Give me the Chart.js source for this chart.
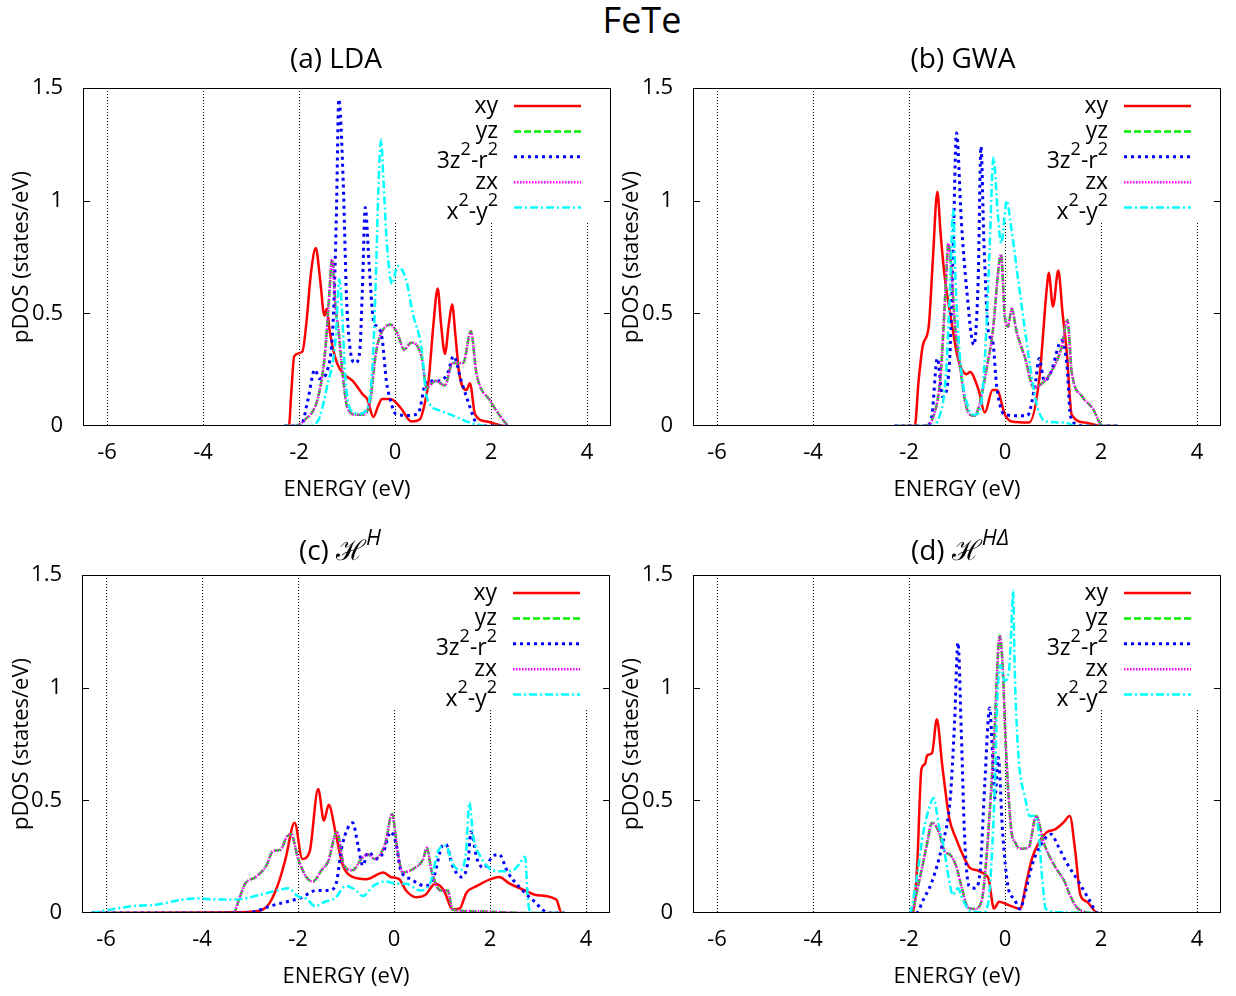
<!DOCTYPE html>
<html>
<head>
<meta charset="utf-8">
<title>FeTe pDOS</title>
<script src="https://cdn.jsdelivr.net/npm/chart.js@4.4.1/dist/chart.umd.min.js"></script>
<style>
  body { margin: 0; background: #fff; width: 1236px; height: 996px; overflow: hidden; position: relative; font-family: 'Open Sans', sans-serif; }
  #title { position: absolute; left: 24px; top: 0; width: 1236px; text-align: center; font-size: 36px; line-height: 40px; }
  canvas { position: absolute; }
</style>
</head>
<body>
<div id="title">FeTe</div>
<canvas id="lda" width="618" height="470" style="left:0;top:40px"></canvas>
<canvas id="gwa" width="618" height="470" style="left:618px;top:40px"></canvas>
<canvas id="hh" width="618" height="470" style="left:0;top:527px"></canvas>
<canvas id="hhd" width="618" height="470" style="left:618px;top:527px"></canvas>
<script>
// orbital names (^ marks a superscript) and panel titles
const orbitalLabels = ['xy', 'yz', '3z^2-r^2', 'zx', 'x^2-y^2'];
const panelTitles = ['(a) LDA', '(b) GWA', '(c) \u210B^{H}', '(d) \u210B^{H\u0394}'];
const xTicks = [-6, -4, -2, 0, 2, 4];
const xTickLabels = ['-6', '-4', '-2', '0', '2', '4'];
const yTicks = [0, 0.5, 1, 1.5];
const yTickLabels = ['0', '0.5', '1', '1.5'];

// pDOS curves, [energy (eV), states/eV]
// (a) LDA
const ldaXy = [[-2.3,0],[-2.21,0],[-2.16,0.15],[-2.10,0.31],[-1.93,0.33],[-1.85,0.45],[-1.75,0.68],[-1.65,0.79],[-1.56,0.65],[-1.47,0.49],[-1.42,0.52],[-1.36,0.42],[-1.21,0.28],[-1.06,0.23],[-0.88,0.20],[-0.67,0.14],[-0.58,0.12],[-0.45,0.04],[-0.35,0.09],[-0.27,0.12],[-0.09,0.12],[0.12,0.08],[0.34,0.02],[0.52,0.03],[0.62,0.10],[0.70,0.20],[0.80,0.45],[0.89,0.61],[0.96,0.45],[1.04,0.32],[1.12,0.45],[1.19,0.54],[1.26,0.40],[1.34,0.23],[1.49,0.16],[1.56,0.19],[1.67,0.05],[1.92,0.02],[2.28,0],[2.35,0]];
const ldaYz = [[-2.3,0],[-2.1,0],[-1.89,0.025],[-1.6,0.13],[-1.46,0.32],[-1.38,0.55],[-1.31,0.74],[-1.24,0.53],[-1.17,0.41],[-1.10,0.25],[-0.99,0.08],[-0.81,0.05],[-0.67,0.05],[-0.52,0.11],[-0.40,0.32],[-0.31,0.40],[-0.09,0.45],[0.05,0.41],[0.19,0.34],[0.34,0.37],[0.55,0.31],[0.66,0.17],[0.84,0.20],[1.04,0.18],[1.20,0.28],[1.42,0.28],[1.58,0.42],[1.70,0.23],[1.99,0.11],[2.17,0.05],[2.35,0]];
const ldaZ2 = [[-2.3,0],[-1.96,0],[-1.82,0.11],[-1.67,0.25],[-1.57,0.21],[-1.39,0.26],[-1.28,0.50],[-1.22,0.95],[-1.17,1.45],[-1.08,1.09],[-1.01,0.57],[-0.92,0.32],[-0.83,0.28],[-0.74,0.32],[-0.68,0.60],[-0.62,0.97],[-0.54,0.72],[-0.45,0.47],[-0.37,0.44],[-0.27,0.39],[-0.18,0.20],[-0.09,0.11],[0.01,0.055],[0.27,0.047],[0.48,0.055],[0.66,0.20],[0.91,0.20],[1.09,0.23],[1.22,0.31],[1.38,0.20],[1.52,0.11],[1.70,0.01],[1.81,0],[2.35,0]];
const ldaX2y2 = [[-2.3,0],[-1.82,0],[-1.6,0.025],[-1.42,0.17],[-1.24,0.38],[-1.16,0.65],[-1.10,0.50],[-1.04,0.23],[-0.92,0.07],[-0.74,0.055],[-0.60,0.07],[-0.47,0.26],[-0.40,0.65],[-0.34,1.09],[-0.29,1.27],[-0.24,1.09],[-0.17,0.81],[-0.06,0.63],[0.05,0.71],[0.23,0.65],[0.37,0.50],[0.55,0.35],[0.66,0.13],[0.91,0.07],[1.20,0.047],[1.63,0.01],[1.92,0],[2.35,0]];

// (b) GWA
const gwaXy = [[-2.3,0],[-1.88,0],[-1.80,0.2],[-1.71,0.36],[-1.59,0.44],[-1.50,0.75],[-1.41,1.04],[-1.34,0.85],[-1.26,0.67],[-1.12,0.47],[-0.98,0.30],[-0.80,0.23],[-0.73,0.24],[-0.55,0.16],[-0.42,0.06],[-0.26,0.16],[-0.17,0.16],[0,0.05],[0.14,0.02],[0.50,0.015],[0.71,0.20],[0.87,0.61],[0.91,0.68],[1.0,0.53],[1.11,0.69],[1.20,0.50],[1.29,0.32],[1.39,0.05],[1.68,0.015],[2.0,0],[2.35,0]];
const gwaYz = [[-2.3,0],[-1.70,0],[-1.48,0.05],[-1.34,0.23],[-1.23,0.64],[-1.18,0.81],[-1.12,0.70],[-1.05,0.47],[-0.94,0.27],[-0.80,0.08],[-0.65,0.045],[-0.55,0.08],[-0.37,0.27],[-0.26,0.41],[-0.08,0.76],[-0.01,0.50],[0.06,0.44],[0.14,0.52],[0.24,0.42],[0.42,0.30],[0.60,0.17],[0.75,0.185],[0.96,0.24],[1.18,0.35],[1.30,0.47],[1.39,0.24],[1.61,0.13],[1.82,0.08],[2.04,0],[2.35,0]];
const gwaZ2 = [[-2.3,0],[-1.62,0],[-1.52,0.05],[-1.41,0.30],[-1.30,0.13],[-1.16,0.27],[-1.08,0.79],[-1.01,1.30],[-0.91,0.91],[-0.80,0.61],[-0.65,0.36],[-0.56,0.64],[-0.50,1.24],[-0.44,0.82],[-0.34,0.41],[-0.26,0.38],[-0.17,0.17],[0,0.05],[0.46,0.045],[0.64,0.20],[0.71,0.30],[0.82,0.20],[0.96,0.24],[1.18,0.38],[1.29,0.27],[1.36,0.05],[1.47,0.01],[1.61,0],[2.35,0]];
const gwaX2y2 = [[-2.3,0],[-1.55,0],[-1.37,0.04],[-1.23,0.23],[-1.14,0.64],[-1.08,0.96],[-1.03,0.64],[-0.94,0.31],[-0.76,0.08],[-0.62,0.05],[-0.51,0.08],[-0.40,0.38],[-0.32,0.79],[-0.24,1.19],[-0.15,0.94],[-0.08,0.81],[0.04,1.0],[0.11,0.91],[0.28,0.64],[0.42,0.42],[0.57,0.20],[0.68,0.08],[0.85,0.02],[1.25,0.015],[1.47,0],[2.35,0]];

// (c) H^H
const hXy = [[-6.3,0],[-3.3,0.003],[-2.8,0.01],[-2.59,0.045],[-2.41,0.13],[-2.26,0.24],[-2.07,0.40],[-1.91,0.24],[-1.76,0.27],[-1.58,0.55],[-1.46,0.41],[-1.36,0.48],[-1.22,0.36],[-1.08,0.22],[-0.86,0.16],[-0.58,0.15],[-0.22,0.18],[-0.07,0.16],[0.11,0.15],[0.25,0.10],[0.47,0.07],[0.65,0.08],[0.86,0.13],[1.04,0.10],[1.22,0.015],[1.37,0.02],[1.51,0.09],[1.73,0.12],[2.01,0.15],[2.19,0.16],[2.41,0.13],[2.73,0.10],[2.95,0.08],[3.38,0.06],[3.49,0],[3.55,0]];
const hYz = [[-6.3,0],[-3.34,0],[-3.23,0.06],[-3.1,0.13],[-2.88,0.16],[-2.66,0.21],[-2.52,0.275],[-2.37,0.28],[-2.23,0.34],[-2.14,0.35],[-2.01,0.25],[-1.83,0.16],[-1.69,0.14],[-1.51,0.19],[-1.37,0.23],[-1.19,0.36],[-1.04,0.21],[-0.86,0.19],[-0.68,0.24],[-0.54,0.26],[-0.40,0.24],[-0.18,0.31],[-0.04,0.44],[0.07,0.28],[0.18,0.18],[0.43,0.20],[0.61,0.24],[0.68,0.29],[0.79,0.18],[0.97,0.10],[1.12,0.10],[1.22,0.015],[1.73,0.007],[2.8,0],[3.55,0]];
const hZ2 = [[-6.3,0],[-3.1,0],[-2.88,0.007],[-2.59,0.03],[-2.23,0.05],[-1.94,0.067],[-1.62,0.10],[-1.37,0.10],[-1.22,0.12],[-1.08,0.30],[-0.86,0.40],[-0.75,0.30],[-0.65,0.21],[-0.54,0.27],[-0.36,0.24],[-0.22,0.27],[-0.07,0.36],[0.04,0.31],[0.14,0.19],[0.36,0.15],[0.50,0.13],[0.65,0.12],[0.83,0.16],[1.01,0.30],[1.08,0.305],[1.22,0.21],[1.40,0.16],[1.55,0.24],[1.60,0.36],[1.73,0.24],[1.87,0.20],[2.05,0.25],[2.19,0.26],[2.37,0.18],[2.59,0.12],[2.88,0.06],[3.24,0],[3.55,0]];
const hX2y2 = [[-6.3,0],[-5.9,0.015],[-5.46,0.03],[-4.96,0.037],[-4.39,0.06],[-4.10,0.065],[-3.67,0.06],[-3.31,0.06],[-2.80,0.08],[-2.44,0.10],[-2.19,0.11],[-2.01,0.075],[-1.80,0.06],[-1.65,0.03],[-1.44,0.05],[-1.22,0.067],[-1.01,0.12],[-0.79,0.10],[-0.65,0.075],[-0.43,0.12],[-0.18,0.14],[0.04,0.13],[0.25,0.13],[0.54,0.10],[0.75,0.13],[0.93,0.28],[1.08,0.30],[1.22,0.22],[1.37,0.19],[1.50,0.27],[1.57,0.49],[1.65,0.34],[1.80,0.25],[1.98,0.20],[2.16,0.185],[2.44,0.185],[2.62,0.22],[2.73,0.25],[2.79,0.06],[2.84,0],[3.55,0]];

// (d) H^{H Delta}
const hdXy = [[-2.0,0],[-1.92,0],[-1.83,0.21],[-1.74,0.64],[-1.67,0.66],[-1.62,0.70],[-1.52,0.71],[-1.42,0.86],[-1.31,0.66],[-1.16,0.42],[-1.02,0.33],[-0.84,0.24],[-0.73,0.20],[-0.59,0.19],[-0.41,0.17],[-0.34,0.15],[-0.23,0.02],[-0.12,0.05],[0.02,0.04],[0.20,0.025],[0.31,0.018],[0.45,0.14],[0.56,0.24],[0.70,0.31],[0.88,0.36],[1.03,0.37],[1.21,0.40],[1.35,0.43],[1.46,0.28],[1.57,0.08],[1.71,0.05],[1.93,0],[1.96,0]];
const hdYz = [[-2.0,0],[-1.96,0],[-1.81,0.12],[-1.63,0.30],[-1.52,0.40],[-1.38,0.36],[-1.27,0.28],[-1.13,0.255],[-1.02,0.21],[-0.91,0.12],[-0.77,0.025],[-0.63,0.018],[-0.48,0.06],[-0.40,0.21],[-0.30,0.51],[-0.22,0.80],[-0.11,1.23],[-0.05,1.10],[0.02,0.73],[0.13,0.37],[0.22,0.31],[0.31,0.285],[0.49,0.29],[0.65,0.43],[0.81,0.31],[1.03,0.21],[1.24,0.14],[1.35,0.08],[1.53,0.018],[1.89,0],[1.96,0]];
const hdZ2 = [[-2.0,0],[-1.85,0],[-1.70,0.06],[-1.52,0.14],[-1.31,0.30],[-1.14,0.51],[-1.05,0.85],[-0.98,1.20],[-0.91,0.80],[-0.84,0.33],[-0.75,0.12],[-0.63,0.11],[-0.52,0.18],[-0.42,0.58],[-0.32,0.91],[-0.25,0.66],[-0.21,0.51],[-0.14,0.69],[-0.05,0.36],[0.06,0.12],[0.2,0.06],[0.31,0.018],[0.42,0.09],[0.56,0.21],[0.74,0.30],[0.96,0.35],[1.10,0.30],[1.28,0.225],[1.53,0.14],[1.75,0.06],[1.93,0],[1.96,0]];
const hdX2y2 = [[-2.0,0],[-1.99,0],[-1.85,0.14],[-1.70,0.36],[-1.56,0.48],[-1.49,0.51],[-1.38,0.39],[-1.27,0.285],[-1.16,0.14],[-1.09,0.08],[-0.98,0.11],[-0.88,0.06],[-0.73,0.01],[-0.45,0.003],[-0.34,0.06],[-0.27,0.27],[-0.21,0.58],[-0.16,0.95],[-0.09,1.10],[-0.01,1.03],[0.08,1.07],[0.13,1.25],[0.17,1.43],[0.20,1.10],[0.27,0.73],[0.42,0.51],[0.52,0.43],[0.63,0.43],[0.70,0.36],[0.78,0.14],[0.85,0.018],[1.17,0.003],[1.80,0],[1.96,0]];

const FONT = "'Open Sans', sans-serif";
Chart.defaults.font.family = FONT;
Chart.defaults.color = '#000';

// line style per orbital: xy solid, yz dashed, 3z2-r2 dotted, zx fine dots, x2-y2 dash-dot
const lineStyles = [
  { color: '#ff0000', dash: [], width: 2.5 },
  { color: '#00ee00', dash: [7, 3], width: 2.5 },
  { color: '#0000ff', dash: [3, 4], width: 3 },
  { color: '#ff00ff', dash: [1.5, 1.5], width: 2.5 },
  { color: '#00ffff', dash: [8, 3, 2, 3], width: 2.5 }
];

// yz and zx are degenerate, so they share one curve
const panels = [
  { id: 'lda', title: panelTitles[0], series: [ldaXy, ldaYz, ldaZ2, ldaYz, ldaX2y2], axisW: 83, padR: 7, yTitlePad: 9, titleShift: -11 },
  { id: 'gwa', title: panelTitles[1], series: [gwaXy, gwaYz, gwaZ2, gwaYz, gwaX2y2], axisW: 75, padR: 15, yTitlePad: 1, titleShift: 6 },
  { id: 'hh', title: panelTitles[2], series: [hXy, hYz, hZ2, hYz, hX2y2], axisW: 82, padR: 8, yTitlePad: 9, titleShift: -6 },
  { id: 'hhd', title: panelTitles[3], series: [hdXy, hdYz, hdZ2, hdYz, hdX2y2], axisW: 75, padR: 15, yTitlePad: 1, titleShift: 3 }
];

// split "3z^2-r^2" / "H^{HD}" into normal and superscript pieces
function richParts(text) {
  const parts = [];
  let buf = '', i = 0;
  while (i < text.length) {
    if (text[i] === '^') {
      if (buf) parts.push({ t: buf, sup: false });
      buf = '';
      if (text[i + 1] === '{') {
        const j = text.indexOf('}', i);
        parts.push({ t: text.slice(i + 2, j), sup: true });
        i = j + 1;
      } else {
        parts.push({ t: text[i + 1], sup: true });
        i += 2;
      }
    } else {
      buf += text[i];
      i++;
    }
  }
  if (buf) parts.push({ t: buf, sup: false });
  return parts;
}

function drawRich(ctx, text, x, baseline, size, align, italicSup) {
  const parts = richParts(text);
  const fontOf = p => (p.sup && italicSup ? 'italic ' : '') + Math.round(p.sup ? size * 0.78 : size) + 'px ' + FONT;
  let total = 0;
  parts.forEach(p => { ctx.font = fontOf(p); p.w = ctx.measureText(p.t).width; total += p.w; });
  let cx = align === 'right' ? x - total : align === 'center' ? x - total / 2 : x;
  const shift = parts.some(p => p.sup) ? size * 0.18 : 0;
  ctx.textAlign = 'left';
  ctx.textBaseline = 'alphabetic';
  parts.forEach(p => {
    ctx.font = fontOf(p);
    ctx.fillText(p.t, cx, baseline + shift - (p.sup ? size * 0.55 : 0));
    cx += p.w;
  });
}

// opaque key box behind the curves, then frame, mirrored y ticks, key and title on top
const keyPlugin = {
  id: 'dosKey',
  beforeDatasetsDraw(chart) {
    const { ctx, chartArea: a, scales: { x } } = chart;
    const left = x.getPixelForValue(-0.6);
    ctx.save();
    ctx.fillStyle = '#fff';
    ctx.fillRect(left, a.top, a.right - left, 133);
    ctx.restore();
  },
  afterDatasetsDraw(chart, args, opts) {
    const { ctx, chartArea: a, scales: { y } } = chart;
    ctx.save();
    ctx.strokeStyle = '#000';
    ctx.lineWidth = 1;
    ctx.setLineDash([]);
    ctx.strokeRect(a.left + 0.5, a.top + 0.5, a.right - a.left - 1, a.bottom - a.top - 1);
    ctx.beginPath();
    yTicks.slice(1, -1).forEach(v => {
      const py = Math.round(y.getPixelForValue(v)) + 0.5;
      ctx.moveTo(a.left, py); ctx.lineTo(a.left + 7, py);
      ctx.moveTo(a.right - 7, py); ctx.lineTo(a.right, py);
    });
    ctx.stroke();

    ctx.fillStyle = '#000';
    chart.data.datasets.forEach((ds, i) => {
      const ly = a.top + 18 + i * 25.4;
      drawRich(ctx, ds.label, a.right - 113, ly + 7, 23, 'right', false);
      ctx.save();
      ctx.strokeStyle = ds.borderColor;
      ctx.lineWidth = ds.borderWidth;
      ctx.setLineDash(ds.borderDash);
      ctx.beginPath();
      ctx.moveTo(a.right - 97, ly);
      ctx.lineTo(a.right - 30, ly);
      ctx.stroke();
      ctx.restore();
    });

    drawRich(ctx, opts.text, (a.left + a.right) / 2 + opts.shift, a.top - 20, 28, 'center', true);
    ctx.restore();
  }
};

panels.forEach(p => {
  new Chart(document.getElementById(p.id), {
    type: 'line',
    data: {
      datasets: p.series.map((pts, i) => ({
        label: orbitalLabels[i],
        data: pts.map(([e, d]) => ({ x: e, y: d })),
        borderColor: lineStyles[i].color,
        borderWidth: lineStyles[i].width,
        borderDash: lineStyles[i].dash,
        pointRadius: 0,
        fill: false,
        cubicInterpolationMode: 'monotone',
        order: -i
      }))
    },
    options: {
      responsive: false,
      animation: false,
      events: [],
      layout: { padding: { top: 48, right: p.padR, left: 0, bottom: 0 } },
      scales: {
        x: {
          type: 'linear',
          min: -6.5,
          max: 4.5,
          afterBuildTicks: s => { s.ticks = xTicks.map(v => ({ value: v })); },
          afterFit: s => { s.height = 84; },
          ticks: {
            padding: 14,
            font: { size: 22 },
            maxRotation: 0,
            autoSkip: false,
            callback: v => xTickLabels[xTicks.indexOf(v)]
          },
          grid: { color: '#000', lineWidth: 1, drawTicks: false },
          border: { display: false, dash: [1, 2] },
          title: { display: true, text: 'ENERGY (eV)', font: { size: 22 }, padding: { top: 0, bottom: 7 } }
        },
        y: {
          min: 0,
          max: 1.5,
          afterBuildTicks: s => { s.ticks = yTicks.map(v => ({ value: v })); },
          afterFit: s => { s.width = p.axisW; },
          ticks: {
            padding: 12,
            font: { size: 22 },
            callback: v => yTickLabels[yTicks.indexOf(v)]
          },
          grid: { display: false },
          border: { display: false },
          title: { display: true, text: 'pDOS (states/eV)', font: { size: 22 }, padding: { top: p.yTitlePad, bottom: 0 } }
        }
      },
      plugins: {
        legend: { display: false },
        tooltip: { enabled: false },
        dosKey: { text: p.title, shift: p.titleShift }
      }
    },
    plugins: [keyPlugin]
  });
});
</script>
</body>
</html>
